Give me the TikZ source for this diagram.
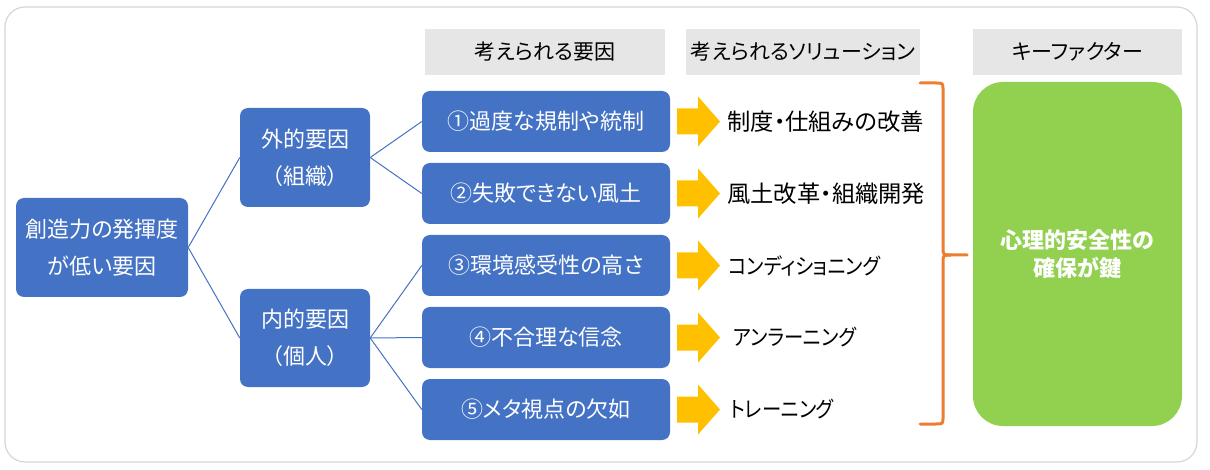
\documentclass[tikz,border=0pt]{standalone}
\usepackage{fontspec}
\setmainfont{Noto Sans CJK JP}[RawFeature={+palt}]
\newfontfamily\narrowjp{Noto Sans CJK JP}[RawFeature={+palt}, FakeStretch=0.88]
\usetikzlibrary{positioning}
\definecolor{cblue}{HTML}{4472C4}
\definecolor{cyel}{HTML}{FFC000}
\definecolor{corange}{HTML}{ED7D31}
\definecolor{cgreen}{HTML}{92D050}
\definecolor{chead}{HTML}{E7E6E6}
\definecolor{cframe}{HTML}{D6D6D6}
\tikzset{
  bluebox/.style={fill=cblue, text=white, rounded corners=8pt, inner sep=0pt, align=center,
    font=\fontsize{22}{37}\selectfont},
  headbox/.style={fill=chead, text=black, inner sep=0pt, minimum height=46pt,
    font=\fontsize{21}{25}\selectfont},
  soltext/.style={anchor=west, inner sep=0pt, text=black, font=\fontsize{23.3}{26}\selectfont},
  kanasol/.style={anchor=west, inner sep=0pt, text=black, font=\narrowjp\fontsize{22}{26}\selectfont},
  link/.style={draw=cblue, line width=1pt},
  yarrow/.style={fill=cyel},
}
\begin{document}
\begin{tikzpicture}[x=1pt,y=-1pt]
\useasboundingbox (0,0) rectangle (1210,470);
\draw[cframe, line width=1.2pt, rounded corners=20pt] (5,7) rectangle (1197,462);

% headers
\node[headbox, minimum width=240pt] (h1) at (545,52) {考えられる要因};
\node[headbox, minimum width=234pt] (h2) at (803,52) {考えられるソリューション};
\node[headbox, minimum width=209pt] (h3) at (1077.5,52) {キーファクター};

% root and second level
\node[bluebox, minimum width=172pt, minimum height=99pt] (root) at (102,247.5) {創造力の発揮度\\が低い要因};
\node[bluebox, minimum width=130pt, minimum height=99pt] (ext) at (305,157.5) {外的要因\\（組織）};
\node[bluebox, minimum width=130pt, minimum height=98pt] (int) at (305,338) {内的要因\\（個人）};

% causes
\foreach \n/\y/\t in {1/121.5/①過度な規制や統制, 2/193.5/②失敗できない風土, 3/265.5/③環境感受性の高さ, 4/337.5/④不合理な信念, 5/409.5/⑤メタ視点の欠如}{
  \node[bluebox, minimum width=248pt, minimum height=61pt] (c\n) at (546,\y) {\t};
  \fill[yarrow] (677,\y) ++(0,-13) -- ++(21,0) -- ++(0,-12) -- ++(22,25) -- ++(-22,25) -- ++(0,-12) -- ++(-21,0) -- cycle;
}

% solutions
\node[soltext] (s1) at (727,121.5) {制度・仕組みの改善};
\node[soltext] (s2) at (727,193.5) {風土改革・組織開発};
\node[kanasol] (s3) at (728,265.5) {コンディショニング};
\node[kanasol] (s4) at (733,337.5) {アンラーニング};
\node[kanasol] (s5) at (730,409.5) {トレーニング};

% connectors
\draw[link] (root.east) -- (ext.west);
\draw[link] (root.east) -- (int.west);
\draw[link] (ext.east) -- (c1.west);
\draw[link] (ext.east) -- (c2.west);
\draw[link] (int.east) -- (c3.west);
\draw[link] (int.east) -- (c4.west);
\draw[link] (int.east) -- (c5.west);

% brace
\draw[corange, line width=3pt, line join=round, line cap=round]
  (920,83) -- (936,83) .. controls (943,83) .. (943,90) -- (943,247) .. controls (943,255) .. (951,255) -- (967,255);
\draw[corange, line width=3pt, line join=round, line cap=round]
  (920,424) -- (936,424) .. controls (943,424) .. (943,417) -- (943,263) .. controls (943,255) .. (951,255);

% key factor
\node[fill=cgreen, rounded corners=30pt, minimum width=209pt, minimum height=344pt, inner sep=0pt,
  text=white, align=center, font=\fontsize{22}{28}\selectfont\bfseries] (key) at (1077.5,254) {心理的安全性の\\確保が鍵};
\end{tikzpicture}
\end{document}
